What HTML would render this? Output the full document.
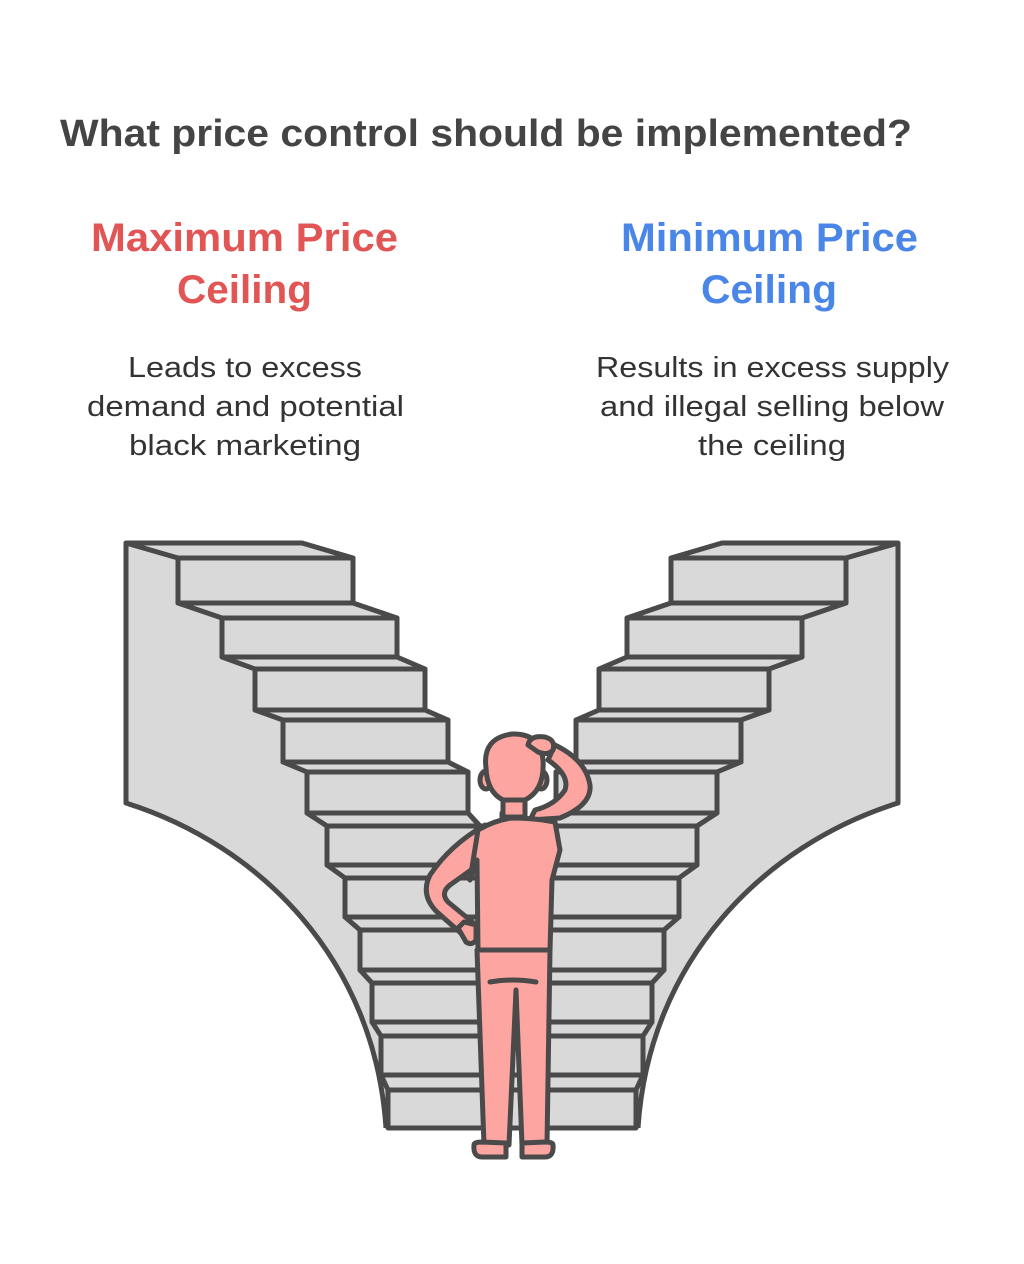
<!DOCTYPE html>
<html><head><meta charset="utf-8"><style>
html,body{margin:0;padding:0;background:#fff;}
svg{display:block;}
text{font-family:"Liberation Sans",sans-serif;}
</style></head><body>
<svg width="1024" height="1264" viewBox="0 0 1024 1264" xmlns="http://www.w3.org/2000/svg">
<text x="60" y="146" font-size="38" font-weight="bold" fill="#444" textLength="852" lengthAdjust="spacingAndGlyphs">What price control should be implemented?</text>
<g font-weight="bold" font-size="40" fill="#e25555">
<text x="91" y="251" textLength="307" lengthAdjust="spacingAndGlyphs">Maximum Price</text>
<text x="177" y="303" textLength="135" lengthAdjust="spacingAndGlyphs">Ceiling</text>
</g>
<g font-weight="bold" font-size="40" fill="#4a86e8">
<text x="621" y="251" textLength="297" lengthAdjust="spacingAndGlyphs">Minimum Price</text>
<text x="701" y="303" textLength="136" lengthAdjust="spacingAndGlyphs">Ceiling</text>
</g>
<g font-size="29" fill="#333">
<text x="128" y="377" textLength="234" lengthAdjust="spacingAndGlyphs">Leads to excess</text>
<text x="87" y="416" textLength="317" lengthAdjust="spacingAndGlyphs">demand and potential</text>
<text x="129" y="455" textLength="232" lengthAdjust="spacingAndGlyphs">black marketing</text>
<text x="596" y="377" textLength="353" lengthAdjust="spacingAndGlyphs">Results in excess supply</text>
<text x="600" y="416" textLength="344" lengthAdjust="spacingAndGlyphs">and illegal selling below</text>
<text x="698" y="455" textLength="148" lengthAdjust="spacingAndGlyphs">the ceiling</text>
</g>
<defs>
<g id="stair" stroke="#4a4a4a" stroke-width="5" stroke-linejoin="round" fill="#d9d9d9">
<path d="M126,543 L302,543 L353,558 L178,558 L178,603 L222,618 L222,657 L255,669 L255,710 L283,720 L283,762 L307,772 L307,813 L327,826 L327,865 L345,878 L345,917 L360,930 L360,970 L372,983 L372,1022 L381,1036 L381,1075 L388,1090 L388,1128 L386,1128 C375,960 260,845 126,803 Z" stroke="none"/>
<path d="M126,543 L126,803 C260,845 375,960 386,1128" fill="none"/>
<path d="M126,543 L302,543 L353,558 L178,558 Z"/>
<rect x="178" y="558" width="175" height="45"/>
<path d="M178,603 L353,603 L397,618 L222,618 Z"/>
<rect x="222" y="618" width="175" height="39"/>
<path d="M222,657 L397,657 L425,669 L255,669 Z"/>
<rect x="255" y="669" width="170" height="41"/>
<path d="M255,710 L425,710 L448,720 L283,720 Z"/>
<rect x="283" y="720" width="165" height="42"/>
<path d="M283,762 L448,762 L468,772 L307,772 Z"/>
<rect x="307" y="772" width="161" height="41"/>
<path d="M307,813 L468,813 L480,826 L327,826 Z"/>
<rect x="327" y="826" width="200" height="39"/>
<path d="M327,865 L527,865 L527,878 L345,878 Z"/>
<rect x="345" y="878" width="182" height="39"/>
<path d="M345,917 L527,917 L527,930 L360,930 Z"/>
<rect x="360" y="930" width="167" height="40"/>
<path d="M360,970 L527,970 L527,983 L372,983 Z"/>
<rect x="372" y="983" width="155" height="39"/>
<path d="M372,1022 L527,1022 L527,1036 L381,1036 Z"/>
<rect x="381" y="1036" width="146" height="39"/>
<path d="M381,1075 L527,1075 L527,1090 L388,1090 Z"/>
<rect x="388" y="1090" width="139" height="38"/>
</g>
</defs>
<use href="#stair"/>
<use href="#stair" transform="translate(1024,0) scale(-1,1)"/>
<g stroke="#4a4a4a" stroke-width="5" stroke-linejoin="round" stroke-linecap="round" fill="#fca5a1">
<path d="M477,950 L550,950 L547,1145 L522,1145 L516,990 L509,1145 L484,1145 Z"/>
<path d="M490,982 Q512,978 536,982" fill="none"/>
<path d="M474,1145 Q473,1157 482,1157 L506,1157 L506,1143 L482,1142 Q474,1142 474,1145 Z"/>
<path d="M553,1145 Q554,1157 545,1157 L522,1157 L522,1143 L545,1142 Q553,1142 553,1145 Z"/>
<path d="M485,825 Q450,845 430,875 Q420,895 437,912 L463,935 L476,925 L448,902 Q440,893 450,885 L478,865 Z"/>
<path d="M458,928 L466,942 Q472,946 476,940 L476,925 L464,922 Z"/>
<path d="M530,820 L560,818 Q592,805 590,785 Q586,760 555,745 L548,760 Q570,775 565,790 Q555,805 535,810 Z"/>
<path d="M478,950 L477,860 L470,880 L478,830 Q495,820 512,818 Q535,818 555,822 L560,850 L552,880 L550,950 Z"/>
<path d="M502,818 L525,818 L525,813 L502,813 Z"/>
<rect x="503" y="795" width="22" height="22"/>
<ellipse cx="486" cy="780" rx="6" ry="9"/>
<ellipse cx="541" cy="780" rx="6" ry="9"/>
<path d="M486,768 Q482,738 512,734 Q540,733 543,760 Q545,790 525,800 L503,800 Q487,792 486,768 Z"/>
<path d="M528,745 Q530,735 545,737 Q556,740 553,750 Q548,756 538,752 Z"/>
</g>
</svg>
</body></html>
